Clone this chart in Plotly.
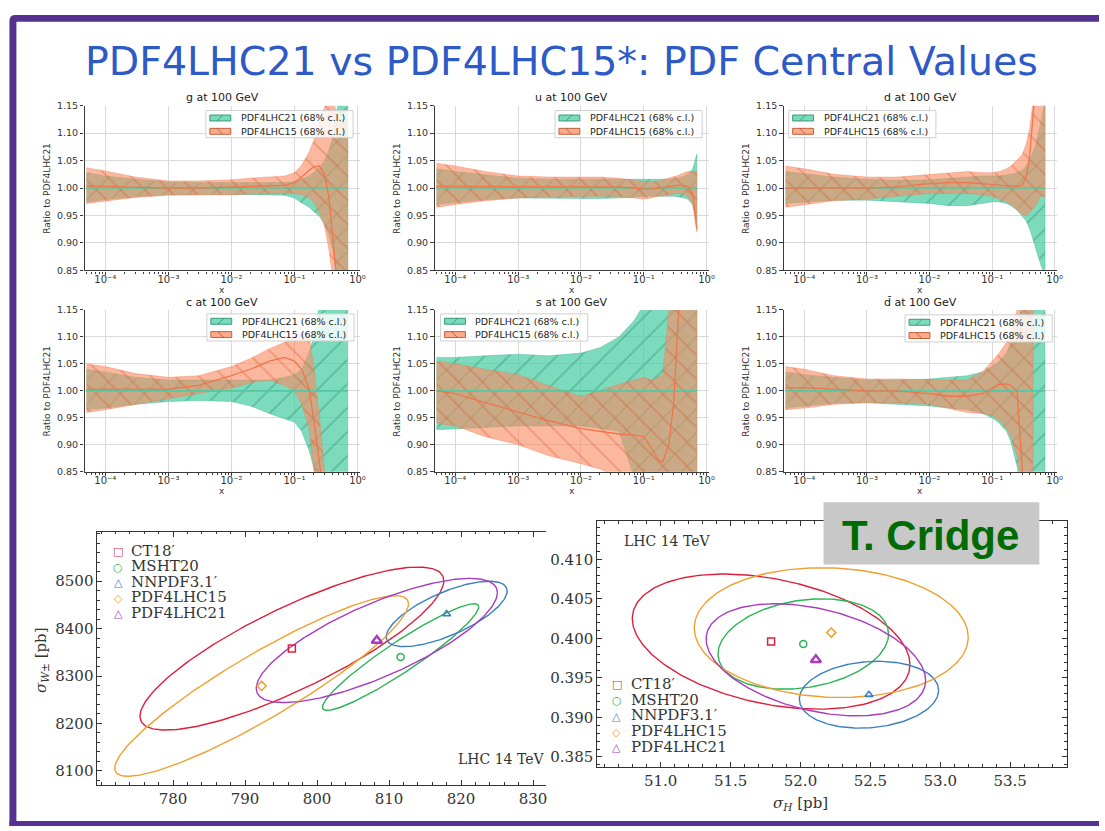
import numpy as np
import plotly.graph_objects as go

W, H = 1105, 831

# ---------------------------------------------------------------- PDF ratio bands
X_GRID = [5e-5, 1e-4, 3e-4, 1e-3, 3e-3, 1e-2, 2e-2, 4e-2, 0.07, 0.1,
          0.13, 0.17, 0.2, 0.25, 0.3, 0.35, 0.4, 0.5, 0.6, 0.7]
X_DBAR15 = [5e-5, 1e-4, 3e-4, 1e-3, 3e-3, 1e-2, 2e-2, 4e-2, 0.07, 0.1,
            0.13, 0.17, 0.2, 0.25, 0.3, 0.35, 0.4, 0.45]

G_HI21 = [1.028, 1.022, 1.016, 1.011, 1.010, 1.010, 1.010, 1.010, 1.010, 1.012, 1.016, 1.022, 1.028, 1.038, 1.050, 1.068, 1.090, 1.160, 1.300, 1.400]
G_LO21 = [0.974, 0.979, 0.984, 0.988, 0.988, 0.988, 0.988, 0.988, 0.987, 0.982, 0.973, 0.965, 0.958, 0.948, 0.935, 0.915, 0.890, 0.820, 0.700, 0.600]
G_HI15 = [1.037, 1.031, 1.020, 1.013, 1.013, 1.015, 1.018, 1.020, 1.022, 1.028, 1.042, 1.065, 1.085, 1.120, 1.150, 1.170, 1.160, 1.130, 1.120, 1.120]
G_LO15 = [0.972, 0.977, 0.983, 0.987, 0.987, 0.988, 0.989, 0.990, 0.990, 0.990, 0.988, 0.982, 0.975, 0.955, 0.930, 0.890, 0.840, 0.700, 0.600, 0.550]
G_MID15 = [1.004, 1.003, 1.001, 1.000, 1.000, 1.002, 1.003, 1.004, 1.005, 1.010, 1.020, 1.032, 1.038, 1.040, 1.025, 0.985, 0.900, 0.800, 0.780, 0.780]

U_HI21 = [1.035, 1.030, 1.024, 1.018, 1.016, 1.016, 1.016, 1.015, 1.015, 1.015, 1.015, 1.015, 1.015, 1.016, 1.017, 1.018, 1.020, 1.025, 1.035, 1.062]
U_LO21 = [0.970, 0.974, 0.979, 0.982, 0.982, 0.981, 0.981, 0.982, 0.983, 0.985, 0.985, 0.985, 0.985, 0.985, 0.985, 0.984, 0.983, 0.980, 0.970, 0.940]
U_HI15 = [1.045, 1.040, 1.030, 1.022, 1.020, 1.020, 1.020, 1.018, 1.014, 1.012, 1.012, 1.013, 1.015, 1.018, 1.020, 1.023, 1.026, 1.030, 1.030, 1.030]
U_LO15 = [0.965, 0.970, 0.977, 0.982, 0.984, 0.985, 0.985, 0.985, 0.982, 0.980, 0.982, 0.985, 0.987, 0.988, 0.989, 0.990, 0.990, 0.985, 0.970, 0.920]
U_MID15 = [1.003, 1.003, 1.002, 1.002, 1.002, 1.003, 1.003, 1.002, 1.000, 0.998, 0.998, 1.000, 1.002, 1.003, 1.004, 1.005, 1.005, 1.003, 0.990, 0.925]

D_HI21 = [1.030, 1.026, 1.020, 1.016, 1.014, 1.015, 1.018, 1.020, 1.022, 1.022, 1.022, 1.024, 1.025, 1.028, 1.032, 1.040, 1.050, 1.080, 1.120, 1.160]
D_LO21 = [0.972, 0.975, 0.978, 0.978, 0.975, 0.972, 0.968, 0.968, 0.972, 0.975, 0.975, 0.972, 0.968, 0.960, 0.950, 0.940, 0.925, 0.890, 0.860, 0.840]
D_HI15 = [1.040, 1.035, 1.025, 1.020, 1.020, 1.025, 1.028, 1.030, 1.028, 1.028, 1.030, 1.035, 1.040, 1.050, 1.060, 1.080, 1.110, 1.200, 1.300, 1.400]
D_LO15 = [0.965, 0.970, 0.977, 0.980, 0.985, 0.990, 0.990, 0.990, 0.988, 0.985, 0.980, 0.975, 0.970, 0.960, 0.952, 0.950, 0.955, 0.970, 0.985, 0.985]
D_MID15 = [1.000, 1.000, 1.000, 1.000, 1.002, 1.008, 1.010, 1.010, 1.008, 1.006, 1.005, 1.004, 1.004, 1.003, 1.005, 1.020, 1.060, 1.180, 1.300, 1.400]

C_HI21 = [1.040, 1.035, 1.025, 1.020, 1.020, 1.020, 1.020, 1.020, 1.025, 1.030, 1.040, 1.070, 1.100, 1.160, 1.300, 1.400, 1.500, 1.600, 1.600, 1.600]
C_LO21 = [0.965, 0.968, 0.975, 0.980, 0.982, 0.980, 0.972, 0.958, 0.948, 0.942, 0.925, 0.890, 0.860, 0.800, 0.700, 0.600, 0.500, 0.400, 0.400, 0.400]
C_HI15 = [1.050, 1.045, 1.032, 1.025, 1.028, 1.045, 1.060, 1.078, 1.090, 1.100, 1.110, 1.100, 1.050, 0.950, 0.850, 0.800, 0.750, 0.700, 0.700, 0.700]
C_LO15 = [0.960, 0.965, 0.975, 0.985, 0.995, 1.005, 1.015, 1.020, 1.010, 1.000, 0.975, 0.930, 0.860, 0.750, 0.650, 0.600, 0.550, 0.500, 0.500, 0.500]
C_MID15 = [1.003, 1.003, 1.002, 1.003, 1.010, 1.028, 1.040, 1.055, 1.062, 1.055, 1.040, 1.005, 0.950, 0.850, 0.750, 0.700, 0.650, 0.600, 0.600, 0.600]

S_HI21 = [1.062, 1.062, 1.065, 1.068, 1.065, 1.070, 1.080, 1.100, 1.130, 1.160, 1.200, 1.300, 1.400, 1.500, 1.600, 1.600, 1.600, 1.600, 1.600, 1.600]
S_LO21 = [0.928, 0.930, 0.932, 0.935, 0.935, 0.935, 0.930, 0.925, 0.840, 0.800, 0.750, 0.700, 0.650, 0.600, 0.500, 0.400, 0.400, 0.400, 0.400, 0.400]
S_HI15 = [1.055, 1.050, 1.040, 1.030, 1.010, 0.990, 1.000, 1.012, 1.020, 1.025, 1.020, 1.025, 1.030, 1.200, 1.400, 1.500, 1.600, 1.600, 1.600, 1.600]
S_LO15 = [0.940, 0.935, 0.915, 0.900, 0.880, 0.865, 0.855, 0.840, 0.800, 0.780, 0.750, 0.720, 0.700, 0.650, 0.600, 0.500, 0.400, 0.400, 0.400, 0.400]
S_MID15 = [1.000, 0.995, 0.978, 0.960, 0.945, 0.930, 0.925, 0.920, 0.918, 0.915, 0.895, 0.872, 0.868, 0.900, 0.980, 1.120, 1.250, 1.300, 1.300, 1.300]

DB_HI21 = [1.035, 1.030, 1.025, 1.020, 1.020, 1.022, 1.025, 1.028, 1.035, 1.045, 1.055, 1.070, 1.090, 1.120, 1.160, 1.300, 1.400, 1.500, 1.600, 1.600]
DB_LO21 = [0.968, 0.972, 0.977, 0.978, 0.975, 0.972, 0.968, 0.965, 0.958, 0.950, 0.940, 0.925, 0.905, 0.860, 0.800, 0.700, 0.600, 0.500, 0.400, 0.400]
DB_HI15 = [1.045, 1.040, 1.028, 1.022, 1.022, 1.020, 1.020, 1.020, 1.035, 1.055, 1.070, 1.090, 1.110, 1.150, 1.200, 1.300, 1.400, 1.500]
DB_LO15 = [0.965, 0.968, 0.975, 0.978, 0.978, 0.975, 0.968, 0.960, 0.958, 0.955, 0.945, 0.930, 0.915, 0.880, 0.820, 0.700, 0.600, 0.500]
DB_MID15 = [1.005, 1.006, 1.003, 1.000, 1.000, 0.995, 0.990, 0.990, 0.995, 1.005, 1.012, 1.013, 1.010, 1.000, 0.840, 0.700, 0.600, 0.550]

PANEL_TITLES = ["g at 100 GeV", "u at 100 GeV", "d at 100 GeV",
                "c at 100 GeV", "s at 100 GeV", "d\u0304 at 100 GeV"]
LEGEND_LABELS = ["PDF4LHC21 (68% c.l.)", "PDF4LHC15 (68% c.l.)"]
X_TICKS = [1e-4, 1e-3, 1e-2, 1e-1, 1]
X_TICK_TEXT = ["10\u207b\u2074", "10\u207b\u00b3", "10\u207b\u00b2", "10\u207b\u00b9", "10\u2070"]
Y_TICKS = [0.85, 0.90, 0.95, 1.00, 1.05, 1.10, 1.15]

# ---------------------------------------------------------------- cross-section ellipses
SETS = ["CT18\u2032", "MSHT20", "NNPDF3.1\u2032", "PDF4LHC15", "PDF4LHC21"]
SET_COLORS = ["#dc1f3a", "#2bb454", "#3b7fc0", "#f0a030", "#a93cbe"]
SET_SYMBOLS = ["square-open", "circle-open", "triangle-up-open", "diamond-open", "triangle-up-open"]
SET_GLYPHS = ["\u25a1", "\u25cb", "\u25b3", "\u25c7", "<b>\u25b3</b>"]

# W cross section (left): centre, half-extents, correlation
WX_CENTER = [796.5, 811.6, 818.0, 792.3, 808.3]
WY_CENTER = [8358, 8340, 8431, 8279, 8375]
WX_HALF = [21.1, 10.85, 8.4, 20.4, 16.75]
WY_HALF = [172.0, 112.5, 69.0, 190.5, 131.0]
W_RHO = [0.83, 0.94, 0.70, 0.91, 0.77]

# Higgs cross section (right): centre, half-extents, correlation
HX_CENTER = [51.79, 52.02, 52.49, 52.22, 52.11]
HY_CENTER = [0.39960, 0.39930, 0.39288, 0.40074, 0.39730]
HX_HALF = [0.993, 0.61, 0.498, 0.98, 0.785]
HY_HALF = [0.00855, 0.00572, 0.00423, 0.00821, 0.00709]
H_RHO = [-0.34, 0.22, 0.13, -0.07, -0.37]

# ---------------------------------------------------------------- styling
PURPLE = "#553291"
TITLE_BLUE = "#2d5ac6"
TEAL_FILL = "rgba(72,206,163,0.72)"
TEAL_EDGE = "rgba(60,170,135,0.6)"
TEAL_HATCH = "rgba(30,125,95,0.75)"
TEAL_LINE = "#56c7a0"
ORANGE_FILL = "rgba(250,140,100,0.62)"
ORANGE_EDGE = "rgba(240,120,80,0.6)"
ORANGE_HATCH = "rgba(210,85,45,0.75)"
ORANGE_LINE = "#f07548"
SANS = "DejaVu Sans"
SERIF = "DejaVu Serif"

COLS = [(85, 362), (437, 713), (788, 1063)]
ROWS = [(101, 268), (308, 472)]
LEGEND_BOX = [(207, 106), (558, 106), (793, 106), (208, 312), (443, 312), (910, 313)]


def fx(x):
    return x / W


def fy(y):
    return 1 - y / H


def ann(text, x, y, size, color="#222", family=SANS, xanchor="center",
        yanchor="middle", angle=0):
    return dict(text=text, x=fx(x), y=fy(y), xref="paper", yref="paper",
                showarrow=False, font=dict(size=size, color=color, family=family),
                xanchor=xanchor, yanchor=yanchor, textangle=angle)


def rect(x0, y0, x1, y1, fill, line_color=None, line_width=0, layer="above"):
    return dict(type="rect", xref="paper", yref="paper",
                x0=fx(x0), x1=fx(x1), y0=fy(y1), y1=fy(y0),
                fillcolor=fill, layer=layer,
                line=dict(color=line_color or "rgba(0,0,0,0)", width=line_width))


def seg(x0, y0, x1, y1, color, width):
    return dict(type="line", xref="paper", yref="paper",
                x0=fx(x0), x1=fx(x1), y0=fy(y0), y1=fy(y1),
                line=dict(color=color, width=width), layer="above")


fig = go.Figure()
annotations = []
shapes = []
layout_axes = {}

panels = [
    (X_GRID, G_LO21, G_HI21, X_GRID, G_LO15, G_HI15, G_MID15),
    (X_GRID, U_LO21, U_HI21, X_GRID, U_LO15, U_HI15, U_MID15),
    (X_GRID, D_LO21, D_HI21, X_GRID, D_LO15, D_HI15, D_MID15),
    (X_GRID, C_LO21, C_HI21, X_GRID, C_LO15, C_HI15, C_MID15),
    (X_GRID, S_LO21, S_HI21, X_GRID, S_LO15, S_HI15, S_MID15),
    (X_GRID, DB_LO21, DB_HI21, X_DBAR15, DB_LO15, DB_HI15, DB_MID15),
]

minor_x = [m * 10.0 ** e for e in range(-5, 0) for m in range(2, 10)]

for i, (x21, lo21, hi21, x15, lo15, hi15, mid15) in enumerate(panels):
    k = i + 1
    xa = "x" if k == 1 else f"x{k}"
    ya = "y" if k == 1 else f"y{k}"
    col = COLS[i % 3]
    row = ROWS[i // 3]

    fig.add_trace(go.Scatter(
        x=list(x21) + list(x21)[::-1], y=list(hi21) + list(lo21)[::-1],
        fill="toself", fillcolor=TEAL_FILL, mode="lines",
        line=dict(color=TEAL_EDGE, width=0.6),
        fillpattern=dict(shape="/", fgcolor=TEAL_HATCH, size=17, solidity=0.09, fillmode="overlay"),
        xaxis=xa, yaxis=ya, hoverinfo="skip", showlegend=False, name=LEGEND_LABELS[0]))
    fig.add_trace(go.Scatter(
        x=list(x15) + list(x15)[::-1], y=list(hi15) + list(lo15)[::-1],
        fill="toself", fillcolor=ORANGE_FILL, mode="lines",
        line=dict(color=ORANGE_EDGE, width=0.6),
        fillpattern=dict(shape="\\", fgcolor=ORANGE_HATCH, size=17, solidity=0.09, fillmode="overlay"),
        xaxis=xa, yaxis=ya, hoverinfo="skip", showlegend=False, name=LEGEND_LABELS[1]))
    # PDF4LHC21 is the reference: its ratio is unity
    fig.add_trace(go.Scatter(
        x=[x21[0], x21[-1]], y=[1.0, 1.0], mode="lines",
        line=dict(color=TEAL_LINE, width=1.6),
        xaxis=xa, yaxis=ya, hoverinfo="skip", showlegend=False))
    fig.add_trace(go.Scatter(
        x=x15, y=mid15, mode="lines", line=dict(color=ORANGE_LINE, width=1.3),
        xaxis=xa, yaxis=ya, hoverinfo="skip", showlegend=False))

    axis_key = "xaxis" if k == 1 else f"xaxis{k}"
    yaxis_key = "yaxis" if k == 1 else f"yaxis{k}"
    layout_axes[axis_key] = dict(
        type="log", range=[-4.33, 0.04], domain=[fx(col[0]), fx(col[1])],
        anchor=ya, tickvals=X_TICKS, ticktext=X_TICK_TEXT,
        showgrid=True, gridcolor="#d9d9d9", gridwidth=1, zeroline=False,
        showline=True, linecolor="#3a3a3a", linewidth=1.2,
        ticks="outside", ticklen=3, tickcolor="#3a3a3a", ticklabelstandoff=-4,
        minor=dict(tickvals=minor_x, ticks="outside", ticklen=2, tickcolor="#3a3a3a", showgrid=False),
        tickfont=dict(family=SANS, size=10, color="#333"), fixedrange=True)
    layout_axes[yaxis_key] = dict(
        range=[0.85, 1.15], domain=[fy(row[1]), fy(row[0])], anchor=xa,
        tickvals=Y_TICKS, ticktext=[f"{v:.2f}" for v in Y_TICKS],
        showgrid=True, gridcolor="#d9d9d9", gridwidth=1, zeroline=False,
        showline=True, linecolor="#3a3a3a", linewidth=1.2,
        ticks="outside", ticklen=3.5, tickcolor="#3a3a3a",
        tickfont=dict(family=SANS, size=9.5, color="#333"), fixedrange=True)

    cx = (col[0] + col[1]) / 2
    annotations.append(ann(PANEL_TITLES[i], cx, row[0] - 8, 11, "#1a1a1a"))
    annotations.append(ann("Ratio to PDF4LHC21", col[0] - 38, (row[0] + row[1]) / 2, 9, "#333", angle=-90))
    annotations.append(ann("x", cx, row[1] + 19.5, 9, "#333"))

    # legend box
    L, T = LEGEND_BOX[i]
    shapes.append(rect(L, T, L + 148, T + 27.5, "rgba(255,255,255,0.82)", "#cfcfcf", 1))
    shapes.append(rect(L + 4, T + 4.5, L + 25, T + 10.5, "rgb(120,220,188)", "#3a9a7a", 1))
    shapes.append(seg(L + 11, T + 10.5, L + 17, T + 4.5, "#2d8a6a", 0.8))
    shapes.append(rect(L + 4, T + 18, L + 25, T + 24, "rgb(251,170,140)", "#c0603a", 1))
    shapes.append(seg(L + 11, T + 18, L + 17, T + 24, "#b0502c", 0.8))
    annotations.append(ann(LEGEND_LABELS[0], L + 33, T + 7.5, 9.5, "#222", xanchor="left"))
    annotations.append(ann(LEGEND_LABELS[1], L + 33, T + 21, 9.5, "#222", xanchor="left"))

# ---------------------------------------------------------------- ellipse panels
theta = np.linspace(0, 2 * np.pi, 241)


def ellipse(cx, cy, hx, hy, rho):
    ex = cx + hx * np.cos(theta)
    ey = cy + hy * (rho * np.cos(theta) + np.sqrt(1 - rho ** 2) * np.sin(theta))
    return ex, ey


for j in range(len(SETS)):
    ex, ey = ellipse(WX_CENTER[j], WY_CENTER[j], WX_HALF[j], WY_HALF[j], W_RHO[j])
    fig.add_trace(go.Scatter(x=ex, y=ey, mode="lines", line=dict(color=SET_COLORS[j], width=1.4),
                             xaxis="x7", yaxis="y7", hoverinfo="skip", showlegend=False))
    hx_, hy_ = ellipse(HX_CENTER[j], HY_CENTER[j], HX_HALF[j], HY_HALF[j], H_RHO[j])
    fig.add_trace(go.Scatter(x=hx_, y=hy_, mode="lines", line=dict(color=SET_COLORS[j], width=1.4),
                             xaxis="x8", yaxis="y8", hoverinfo="skip", showlegend=False))

for j in range(len(SETS)):
    bold = j == 4
    mk = dict(symbol=SET_SYMBOLS[j], size=9 if bold else 7, color=SET_COLORS[j],
              line=dict(width=2.4 if bold else 1.5, color=SET_COLORS[j]))
    fig.add_trace(go.Scatter(x=[WX_CENTER[j]], y=[WY_CENTER[j]], mode="markers", marker=mk,
                             xaxis="x7", yaxis="y7", hoverinfo="skip", showlegend=False, name=SETS[j]))
    fig.add_trace(go.Scatter(x=[HX_CENTER[j]], y=[HY_CENTER[j]], mode="markers", marker=mk,
                             xaxis="x8", yaxis="y8", hoverinfo="skip", showlegend=False, name=SETS[j]))

serif_tick = dict(family=SERIF, size=15, color="#333")
layout_axes["xaxis7"] = dict(
    range=[769.5, 831.8], domain=[fx(98), fx(549)], anchor="y7",
    tickvals=[780, 790, 800, 810, 820, 830], showgrid=False, zeroline=False,
    showline=True, linecolor="#333", linewidth=1, mirror="allticks",
    ticks="inside", ticklen=5, tickcolor="#333",
    minor=dict(dtick=2, ticks="inside", ticklen=2.5, tickcolor="#333"),
    tickfont=serif_tick, fixedrange=True)
layout_axes["yaxis7"] = dict(
    range=[8071, 8604], domain=[fy(789), fy(533)], anchor="x7",
    tickvals=[8100, 8200, 8300, 8400, 8500], showgrid=False, zeroline=False,
    showline=True, linecolor="#333", linewidth=1, mirror=False,
    ticks="inside", ticklen=5, tickcolor="#333",
    minor=dict(dtick=20, ticks="inside", ticklen=2.5, tickcolor="#333"),
    tickfont=serif_tick, fixedrange=True)
layout_axes["xaxis8"] = dict(
    range=[50.546, 53.905], domain=[fx(600.5), fx(1072.6)], anchor="y8",
    tickvals=[51.0, 51.5, 52.0, 52.5, 53.0, 53.5], tickformat=".1f",
    showgrid=False, zeroline=False,
    showline=True, linecolor="#333", linewidth=1, mirror="allticks",
    ticks="inside", ticklen=5, tickcolor="#333",
    minor=dict(dtick=0.1, ticks="inside", ticklen=2.5, tickcolor="#333"),
    tickfont=serif_tick, fixedrange=True)
layout_axes["yaxis8"] = dict(
    range=[0.38376, 0.41485], domain=[fy(771), fy(522)], anchor="x8",
    tickvals=[0.385, 0.390, 0.395, 0.400, 0.405, 0.410], tickformat=".3f",
    showgrid=False, zeroline=False,
    showline=True, linecolor="#333", linewidth=1, mirror="allticks",
    ticks="inside", ticklen=5, tickcolor="#333",
    minor=dict(dtick=0.001, ticks="inside", ticklen=2.5, tickcolor="#333"),
    tickfont=serif_tick, fixedrange=True)

legend_rows_left = [552, 568, 583.5, 599, 615]
legend_rows_right = [687, 703, 719, 735, 750.5]
for j in range(len(SETS)):
    annotations.append(ann(SET_GLYPHS[j], 119, legend_rows_left[j] + 1, 11, SET_COLORS[j]))
    annotations.append(ann(SETS[j], 130, legend_rows_left[j], 15, "#333", SERIF, xanchor="left"))
    annotations.append(ann(SET_GLYPHS[j], 620, legend_rows_right[j] + 1, 11, SET_COLORS[j]))
    annotations.append(ann(SETS[j], 632, legend_rows_right[j], 15, "#333", SERIF, xanchor="left"))

annotations.append(ann("LHC 14 TeV", 549, 763, 14, "#333", SERIF, xanchor="right"))
annotations.append(ann("LHC 14 TeV", 625, 542, 14, "#333", SERIF, xanchor="left"))
annotations.append(ann("<i>\u03c3</i><sub><i>H</i></sub> [pb]", 805, 808, 15, "#333", SERIF))
annotations.append(ann("<i>\u03c3</i><sub><i>W</i>\u00b1</sub> [pb]", 41, 663, 15, "#333", SERIF, angle=-90))

# ---------------------------------------------------------------- slide frame, title, credit
annotations.append(ann("PDF4LHC21 vs PDF4LHC15*: PDF Central Values", 565, 56, 39.5, TITLE_BLUE))

shapes.append(rect(828, 503, 1045, 566, "#c8c8c8"))
annotations.append(ann("<b>T. Cridge</b>", 936, 537, 42, "#006b00", "Liberation Sans"))

frame_path = "M {a},{b} L {a},{c} Q {a},{d} {e},{d} L {f},{d} L {f},{g} L {h},{g} L {h},{b} Z".format(
    a=fx(9.5), b=fy(831), c=fy(15), d=fy(9), e=fx(15.5), f=fx(1105), g=fy(16), h=fx(16.5))
shapes.append(dict(type="path", path=frame_path, xref="paper", yref="paper",
                   fillcolor=PURPLE, line=dict(width=0), layer="above"))
shapes.append(rect(9.5, 826, 1105, 831, PURPLE))

fig.update_layout(
    width=W, height=H, margin=dict(l=0, r=0, t=0, b=0),
    paper_bgcolor="white", plot_bgcolor="rgba(0,0,0,0)",
    showlegend=False, annotations=annotations, shapes=shapes,
    **layout_axes)

fig.write_html("out.html", config=dict(displayModeBar=False))
